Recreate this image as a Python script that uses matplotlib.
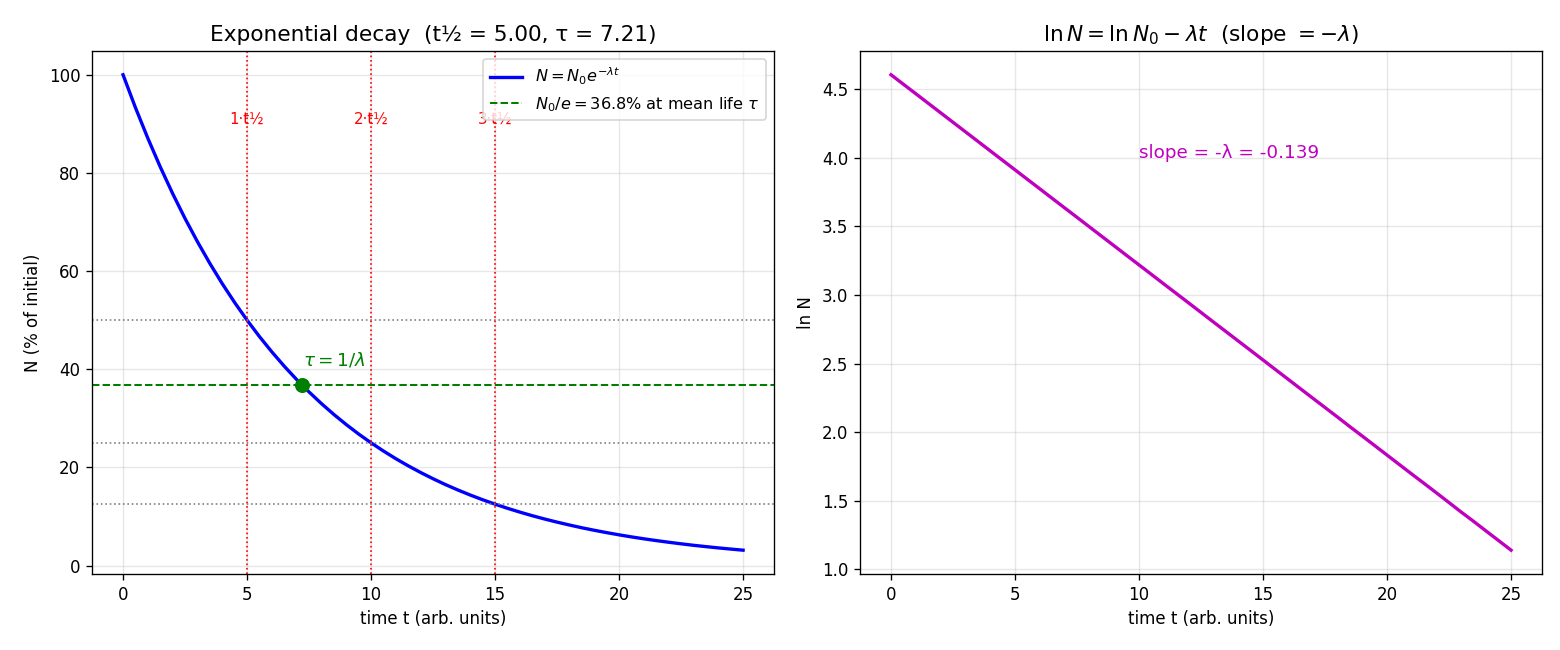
import numpy as np
import matplotlib

matplotlib.use("Agg")
import matplotlib.pyplot as plt

# values (percent of initial, every half time unit)
t_vals = [0, 0.5, 1, 1.5, 2, 2.5, 3, 3.5, 4, 4.5, 5, 5.5, 6, 6.5, 7, 7.5, 8, 8.5, 9, 9.5,
          10, 10.5, 11, 11.5, 12, 12.5, 13, 13.5, 14, 14.5, 15, 15.5, 16, 16.5, 17, 17.5,
          18, 18.5, 19, 19.5, 20, 20.5, 21, 21.5, 22, 22.5, 23, 23.5, 24, 24.5, 25]
n_vals = [100.0, 93.30, 87.06, 81.23, 75.79, 70.71, 65.98, 61.56, 57.43, 53.59,
          50.0, 46.65, 43.53, 40.61, 37.89, 35.36, 32.99, 30.78, 28.72, 26.79,
          25.0, 23.33, 21.76, 20.31, 18.95, 17.68, 16.49, 15.39, 14.36, 13.40,
          12.5, 11.66, 10.88, 10.15, 9.47, 8.84, 8.25, 7.69, 7.18, 6.70,
          6.25, 5.83, 5.44, 5.08, 4.74, 4.42, 4.12, 3.85, 3.59, 3.35, 3.125]
half_life = 5.00
tau = 7.21
lam = 0.139
n_at_tau = 36.8
half_marks = [5, 10, 15]
half_levels = [50.0, 25.0, 12.5]
half_labels = ["1·t½", "2·t½", "3·t½"]

t = np.array(t_vals, dtype=float)
n = np.array(n_vals, dtype=float)

fig, (ax1, ax2) = plt.subplots(1, 2, figsize=(13, 5.417), dpi=120)
fig.subplots_adjust(left=0.059, right=0.9885, top=0.9215, bottom=0.117, wspace=0.126)

ax1.plot(t, n, color="blue", lw=2, label=r"$N = N_0 e^{-\lambda t}$")
for x, lvl, lab in zip(half_marks, half_levels, half_labels):
    ax1.axvline(x, color="red", ls=":", lw=1)
    ax1.axhline(lvl, color="gray", ls=":", lw=1)
    ax1.text(x, 90, lab, color="red", ha="center", fontsize=9)
ax1.axhline(n_at_tau, color="green", ls="--", lw=1.2,
            label=r"$N_0/e = 36.8\%$ at mean life $\tau$")
ax1.plot([tau], [n_at_tau], "o", color="green", ms=8)
ax1.text(tau + 0.05, n_at_tau + 4, r"$\tau = 1/\lambda$", color="green", fontsize=11)
ax1.set_xlabel("time t (arb. units)")
ax1.set_ylabel("N (% of initial)")
ax1.set_title(f"Exponential decay  (t½ = {half_life:.2f}, τ = {tau:.2f})", fontsize=13)
ax1.grid(alpha=0.3)
ax1.legend(loc="upper right", fontsize=9.7)

ax2.plot(t, np.log(n), color="m", lw=2)
ax2.text(10, 4.0, f"slope = -λ = {-lam:.3f}", color="m", fontsize=11)
ax2.set_xlabel("time t (arb. units)")
ax2.set_ylabel("ln N")
ax2.set_title(r"$\ln N = \ln N_0 - \lambda t$  (slope $= -\lambda$)", fontsize=13)
ax2.grid(alpha=0.3)

fig.savefig("out.png", dpi=120)
